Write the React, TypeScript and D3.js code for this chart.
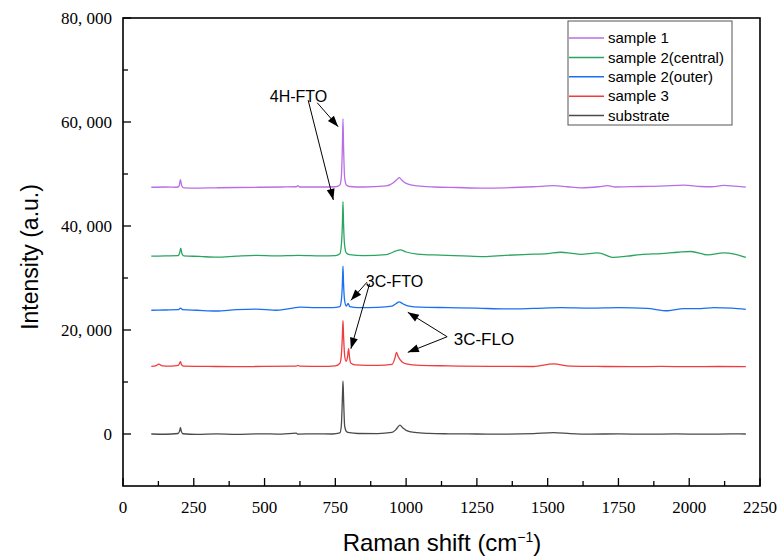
import React from 'react';
import * as d3 from 'd3';

type Pt = [number, number];

// Raman spectra: [shift (cm-1), intensity]
const sample1: Pt[] = [
  [100, 47450], [150, 47500], [190, 47450], [198, 47700], [203, 48900], [207, 47800], [215, 47350],
  [260, 47300], [330, 47350], [400, 47400], [480, 47450], [560, 47500], [612, 47550], [618, 47750],
  [624, 47500], [700, 47500], [750, 47550], [766, 47900], [771, 49300], [775, 55500], [777, 60600],
  [779, 55500], [783, 49300], [789, 47900], [800, 47600], [850, 47500], [930, 47700], [955, 48300],
  [967, 48900], [976, 49300], [985, 48800], [1000, 48200], [1040, 47700], [1100, 47500], [1180, 47400],
  [1263, 47300], [1350, 47350], [1450, 47550], [1521, 47750], [1570, 47550], [1617, 47350], [1680, 47550],
  [1712, 47750], [1740, 47500], [1830, 47600], [1900, 47650], [1981, 47850], [2040, 47600], [2080, 47550],
  [2122, 47800], [2160, 47650], [2200, 47480],
];

const sample2Central: Pt[] = [
  [100, 34200], [150, 34250], [195, 34300], [200, 34800], [204, 35750], [208, 34700], [215, 34250],
  [270, 34150], [331, 34000], [400, 34200], [470, 34350], [540, 34250], [620, 34350], [700, 34250],
  [750, 34300], [766, 34650], [771, 36200], [775, 40500], [777, 44700], [779, 40500], [783, 36200],
  [789, 34800], [800, 34500], [850, 34300], [930, 34500], [955, 35000], [970, 35300], [980, 35400],
  [1000, 35000], [1040, 34600], [1121, 34400], [1200, 34250], [1274, 34100], [1350, 34350], [1430, 34550],
  [1500, 34700], [1546, 34950], [1580, 34800], [1617, 34550], [1677, 34850], [1733, 33950], [1780, 34200],
  [1829, 34500], [1900, 34700], [1960, 34950], [2006, 35100], [2065, 34450], [2122, 34850], [2160, 34600],
  [2200, 33950],
];

const sample2Outer: Pt[] = [
  [100, 23800], [150, 23850], [195, 23900], [203, 24200], [212, 23900], [260, 23800], [330, 23650],
  [400, 23900], [470, 24000], [543, 23800], [600, 24200], [625, 24400], [680, 24300], [740, 24300],
  [766, 24500], [771, 25600], [775, 29000], [777, 32300], [779, 29000], [783, 25600], [789, 24600],
  [795, 25100], [801, 24500], [830, 24300], [900, 24350], [950, 24600], [965, 25100], [975, 25400],
  [990, 25000], [1010, 24600], [1050, 24400], [1150, 24300], [1250, 24200], [1350, 24050], [1450, 24150],
  [1550, 24300], [1650, 24200], [1750, 24300], [1850, 24150], [1924, 23700], [1980, 24100], [2040, 24100],
  [2087, 24290], [2150, 24200], [2200, 23960],
];

const sample3: Pt[] = [
  [100, 13000], [115, 13100], [127, 13450], [138, 13100], [170, 13050], [195, 13200], [200, 13600],
  [203, 13900], [207, 13300], [215, 13050], [300, 13000], [400, 12950], [500, 13000], [612, 13050],
  [618, 13200], [624, 13050], [700, 13000], [750, 13100], [766, 13600], [771, 15000], [775, 19000],
  [777, 21800], [779, 19000], [783, 15000], [788, 14000], [793, 14800], [797, 16400], [800, 14800],
  [805, 13600], [820, 13300], [900, 13200], [950, 13400], [960, 14500], [966, 15700], [972, 14900],
  [985, 13900], [1000, 13500], [1050, 13200], [1150, 13100], [1300, 13000], [1450, 12980], [1521, 13470],
  [1580, 13050], [1700, 12980], [1800, 12950], [1900, 13000], [2000, 12950], [2100, 12980], [2200, 12950],
];

const substrate: Pt[] = [
  [100, 0], [150, -50], [195, 100], [200, 600], [203, 1200], [206, 500], [212, 50], [260, -80],
  [330, 30], [400, -60], [480, 40], [560, -30], [612, 150], [618, -20], [680, 40], [740, 0],
  [766, 200], [771, 1500], [775, 7000], [777, 10200], [779, 7000], [783, 1500], [789, 500],
  [800, 250], [830, 100], [900, 80], [950, 300], [965, 900], [978, 1700], [988, 1200], [1000, 700],
  [1030, 300], [1080, 120], [1150, 40], [1250, 0], [1350, -40], [1450, 60], [1521, 260], [1580, 80],
  [1650, -20], [1750, 30], [1850, -40], [1950, 20], [2050, -30], [2150, 10], [2200, 0],
];

const seriesNames = ['sample 1', 'sample 2(central)', 'sample 2(outer)', 'sample 3', 'substrate'];
const seriesData = [sample1, sample2Central, sample2Outer, sample3, substrate];
const seriesColors = ['#b86ee6', '#2aa561', '#1c6ff0', '#f03c3c', '#4a4a4a'];

const xTicks = [0, 250, 500, 750, 1000, 1250, 1500, 1750, 2000, 2250];
const xMinorTicks = [125, 375, 625, 875, 1125, 1375, 1625, 1875, 2125];
const yTicks = [0, 20000, 40000, 60000, 80000];
const yMinorTicks = [10000, 30000, 50000, 70000];

// annotations in data coordinates: label position, font size and arrows [from, to]
const annoLabels: { text: string; at: Pt; size: number }[] = [
  { text: '4H-FTO', at: [620, 63900], size: 16 },
  { text: '3C-FTO', at: [959, 28200], size: 16 },
  { text: '3C-FLO', at: [1275, 17200], size: 17 },
];
const annoArrows: [Pt, Pt][] = [
  [[686, 63700], [760, 59100]],
  [[654, 64200], [743, 45000]],
  [[862, 29200], [805, 25700]],
  [[871, 28900], [805, 16400]],
  [[1145, 18700], [1006, 23400]],
  [[1145, 18700], [1006, 15700]],
];

const fmt = (v: number) => d3.format(',')(v).replace(',', ', ');

export default function App() {
  const width = 781;
  const height = 556;
  const x = d3.scaleLinear().domain([0, 2250]).range([123, 760]);
  const y = d3.scaleLinear().domain([-10000, 80000]).range([486, 18]);
  const [x0, x1] = x.range();
  const [y0, y1] = y.range();

  const line = d3.line<Pt>()
    .x(d => x(d[0]))
    .y(d => y(d[1]))
    .curve(d3.curveMonotoneX);

  const serif = '"Liberation Serif", "Times New Roman", serif';
  const sans = '"Liberation Sans", Arial, sans-serif';

  const arrowHead = (from: Pt, to: Pt) => {
    const fx = x(from[0]), fy = y(from[1]);
    const tx = x(to[0]), ty = y(to[1]);
    const ang = Math.atan2(ty - fy, tx - fx);
    const len = 11, half = 4;
    const bx = tx - len * Math.cos(ang), by = ty - len * Math.sin(ang);
    const px = -Math.sin(ang) * half, py = Math.cos(ang) * half;
    return `${tx},${ty} ${bx + px},${by + py} ${bx - px},${by - py}`;
  };

  const legendX = 568, legendY = 21, legendW = 164, legendH = 104;

  return (
    <svg width={width} height={height} style={{ position: 'fixed', left: 0, top: 0, background: '#fff' }}>
      <rect x={0} y={0} width={width} height={height} fill="#fff" />

      {/* spectra, bottom first */}
      {seriesData.slice().reverse().map((d, i) => {
        const idx = seriesData.length - 1 - i;
        return (
          <path key={idx} d={line(d) || ''} fill="none" stroke={seriesColors[idx]} strokeWidth={1.3} />
        );
      })}

      {/* frame */}
      <rect x={x0} y={y1} width={x1 - x0} height={y0 - y1} fill="none" stroke="#000" strokeWidth={1.6} />

      {/* x ticks */}
      {xTicks.map(t => (
        <g key={'xt' + t}>
          <line x1={x(t)} x2={x(t)} y1={y0} y2={y0 - 8} stroke="#000" strokeWidth={1.3} />
          <text x={x(t)} y={y0 + 27} textAnchor="middle" fontFamily={serif} fontSize={17}>{t}</text>
        </g>
      ))}
      {xMinorTicks.map(t => (
        <line key={'xm' + t} x1={x(t)} x2={x(t)} y1={y0} y2={y0 - 5} stroke="#000" strokeWidth={1.3} />
      ))}

      {/* y ticks */}
      {yTicks.map(t => (
        <g key={'yt' + t}>
          <line x1={x0} x2={x0 + 8} y1={y(t)} y2={y(t)} stroke="#000" strokeWidth={1.3} />
          <text x={x0 - 11} y={y(t)} dy="0.35em" textAnchor="end" fontFamily={serif} fontSize={17}>{fmt(t)}</text>
        </g>
      ))}
      {yMinorTicks.map(t => (
        <line key={'ym' + t} x1={x0} x2={x0 + 5} y1={y(t)} y2={y(t)} stroke="#000" strokeWidth={1.3} />
      ))}

      {/* axis titles */}
      <text x={442} y={551} textAnchor="middle" fontFamily={sans} fontSize={24}>
        Raman shift (cm<tspan dy={-9} fontSize={14}>−1</tspan><tspan dy={9}>)</tspan>
      </text>
      <text transform={`translate(38, ${(y0 + y1) / 2 + 5}) rotate(-90)`} textAnchor="middle" fontFamily={sans} fontSize={23}>
        Intensity (a.u.)
      </text>

      {/* annotations */}
      {annoArrows.map(([from, to], i) => (
        <g key={'ar' + i}>
          <line x1={x(from[0])} y1={y(from[1])} x2={x(to[0])} y2={y(to[1])} stroke="#000" strokeWidth={1} />
          <polygon points={arrowHead(from, to)} fill="#000" />
        </g>
      ))}
      {annoLabels.map(a => (
        <text key={a.text} x={x(a.at[0])} y={y(a.at[1])} textAnchor="middle" fontFamily={sans} fontSize={a.size}>{a.text}</text>
      ))}

      {/* legend */}
      <rect x={legendX} y={legendY} width={legendW} height={legendH} fill="#fff" stroke="#555" strokeWidth={1} />
      {seriesNames.map((name, i) => {
        const ly = legendY + 17 + i * 19.4;
        return (
          <g key={name}>
            <line x1={legendX + 1} x2={legendX + 36} y1={ly} y2={ly} stroke={seriesColors[i]} strokeWidth={1.5} />
            <text x={legendX + 40} y={ly} dy="0.35em" fontFamily={sans} fontSize={15}>{name}</text>
          </g>
        );
      })}
    </svg>
  );
}
